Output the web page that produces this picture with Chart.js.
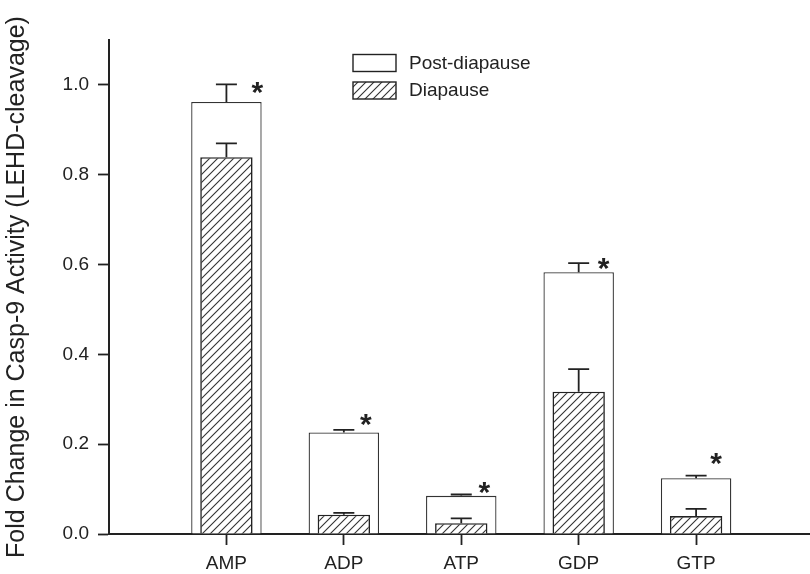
<!DOCTYPE html>
<html>
<head>
<meta charset="utf-8">
<script src="https://cdn.jsdelivr.net/npm/chart.js@4/dist/chart.umd.min.js"></script>
<style>
  html, body { margin: 0; padding: 0; background: #fff; }
  #wrap { width: 810px; height: 574px; }
</style>
</head>
<body>
<div id="wrap"><canvas id="c" width="810" height="574"></canvas></div>
<script>
// Nucleotide treatments along the x axis
const categories = ['AMP', 'ADP', 'ATP', 'GDP', 'GTP'];
// Fold change in caspase-9 activity (LEHD cleavage), mean and upper error
const postDiapause = [0.962, 0.226, 0.085, 0.583, 0.124];
const postDiapauseErr = [0.039, 0.006, 0.003, 0.020, 0.006];
const diapause = [0.839, 0.043, 0.024, 0.317, 0.040];
const diapauseErr = [0.031, 0.004, 0.011, 0.050, 0.016];
// Height of each significance asterisk, in fold-change units
const significanceLevel = [0.993, 0.254, 0.103, 0.601, 0.167];
// Y axis tick values
const yTickValues = [0.0, 0.2, 0.4, 0.6, 0.8, 1.0];

const INK = '#222';
const FONT = "'Liberation Sans', Arial, Helvetica, sans-serif";

// Diagonal "/" hatching used for the diapause bars
function makeHatch(ctx) {
  const s = 8;
  const t = document.createElement('canvas');
  t.width = s; t.height = s;
  const g = t.getContext('2d');
  g.fillStyle = '#fff';
  g.fillRect(0, 0, s, s);
  g.strokeStyle = '#333';
  g.lineWidth = 1.1;
  g.beginPath();
  g.moveTo(0, s); g.lineTo(s, 0);
  g.moveTo(-1, 1); g.lineTo(1, -1);
  g.moveTo(s - 1, s + 1); g.lineTo(s + 1, s - 1);
  g.stroke();
  return ctx.createPattern(t, 'repeat');
}

const canvas = document.getElementById('c');
const ctx = canvas.getContext('2d');
const hatch = makeHatch(ctx);

// Upward-only error bars
const errorBars = {
  id: 'errorBars',
  afterDatasetsDraw(chart) {
    const y = chart.scales.y;
    const c = chart.ctx;
    c.save();
    c.strokeStyle = INK;
    c.lineWidth = 1.8;
    chart.data.datasets.forEach((ds, di) => {
      const meta = chart.getDatasetMeta(di);
      meta.data.forEach((bar, i) => {
        const top = y.getPixelForValue(ds.data[i].y);
        const cap = y.getPixelForValue(ds.data[i].y + ds.errors[i]);
        c.beginPath();
        c.moveTo(bar.x, top);
        c.lineTo(bar.x, cap);
        c.moveTo(bar.x - 10.5, cap);
        c.lineTo(bar.x + 10.5, cap);
        c.stroke();
      });
    });
    c.restore();
  }
};

// Significance asterisks beside the post-diapause bars
const asterisks = {
  id: 'asterisks',
  afterDatasetsDraw(chart, args, opts) {
    const x = chart.scales.x, y = chart.scales.y;
    const c = chart.ctx;
    c.save();
    c.fillStyle = INK;
    c.font = 'bold 30px ' + FONT;
    c.textAlign = 'center';
    c.textBaseline = 'alphabetic';
    const m = c.measureText('*');
    const mid = (m.actualBoundingBoxAscent - m.actualBoundingBoxDescent) / 2;
    significanceLevel.forEach((v, i) => {
      const px = x.getPixelForValue(i + 1) + opts.nudge[i];
      const py = y.getPixelForValue(v);
      c.fillText('*', px, py + mid);
    });
    c.restore();
  }
};

// Boxed legend inside the plot area
const boxLegend = {
  id: 'boxLegend',
  afterDraw(chart) {
    const a = chart.chartArea;
    const c = chart.ctx;
    const bx = a.left + 244, bw = 43, bh = 17;
    const rows = [a.top + 14.5, a.top + 42];
    c.save();
    c.font = '19px ' + FONT;
    c.textBaseline = 'middle';
    c.textAlign = 'left';
    chart.data.datasets.forEach((ds, i) => {
      const by = rows[i];
      c.fillStyle = ds.backgroundColor;
      c.fillRect(bx, by, bw, bh);
      c.strokeStyle = INK;
      c.lineWidth = 1.4;
      c.strokeRect(bx, by, bw, bh);
      c.fillStyle = INK;
      c.fillText(ds.label, bx + bw + 13, by + bh / 2 + 0.5);
    });
    c.restore();
  }
};

new Chart(ctx, {
  type: 'bar',
  data: {
    datasets: [
      {
        label: 'Post-diapause',
        data: categories.map((_, i) => ({ x: i + 1, y: postDiapause[i] })),
        errors: postDiapauseErr,
        backgroundColor: '#fff',
        borderColor: '#333',
        borderWidth: 1.3,
        grouped: false,
        categoryPercentage: 1,
        barPercentage: 0.6,
        order: 2
      },
      {
        label: 'Diapause',
        data: categories.map((_, i) => ({ x: i + 1, y: diapause[i] })),
        errors: diapauseErr,
        backgroundColor: hatch,
        borderColor: INK,
        borderWidth: 1.6,
        grouped: false,
        categoryPercentage: 1,
        barPercentage: 0.446,
        order: 1
      }
    ]
  },
  options: {
    responsive: false,
    animation: false,
    devicePixelRatio: 1,
    layout: { padding: { top: 40, right: 0, bottom: 0, left: 0 } },
    font: { family: FONT },
    plugins: {
      legend: { display: false },
      tooltip: { enabled: false },
      asterisks: { nudge: [31, 22, 23, 25, 20] }
    },
    scales: {
      x: {
        type: 'linear',
        offset: false,
        min: 0,
        max: 5.97,
        afterBuildTicks(scale) {
          scale.ticks = categories.map((_, i) => ({ value: i + 1 }));
        },
        afterFit(scale) { scale.height = 40; },
        ticks: {
          autoSkip: false,
          maxRotation: 0,
          padding: 7,
          color: INK,
          font: { size: 19, family: FONT },
          callback: (v) => categories[v - 1] || ''
        },
        grid: {
          offset: false,
          drawOnChartArea: false,
          drawTicks: true,
          tickLength: 11,
          tickWidth: 1.8,
          tickColor: INK
        },
        border: { display: true, color: INK, width: 2 }
      },
      y: {
        min: 0,
        max: 1.1,
        afterBuildTicks(scale) {
          scale.ticks = yTickValues.map((v) => ({ value: v }));
        },
        afterFit(scale) { scale.width = 109; },
        ticks: {
          padding: 9,
          color: INK,
          font: { size: 19, family: FONT },
          callback: (v) => Number(v).toFixed(1)
        },
        grid: {
          drawOnChartArea: false,
          drawTicks: true,
          tickLength: 11,
          tickWidth: 1.8,
          tickColor: INK
        },
        border: { display: true, color: INK, width: 2 },
        title: {
          display: true,
          text: 'Fold Change in Casp-9 Activity (LEHD-cleavage)',
          color: INK,
          font: { size: 25, family: FONT },
          padding: { top: 2, bottom: 0 }
        }
      }
    }
  },
  plugins: [errorBars, asterisks, boxLegend]
});
</script>
</body>
</html>
